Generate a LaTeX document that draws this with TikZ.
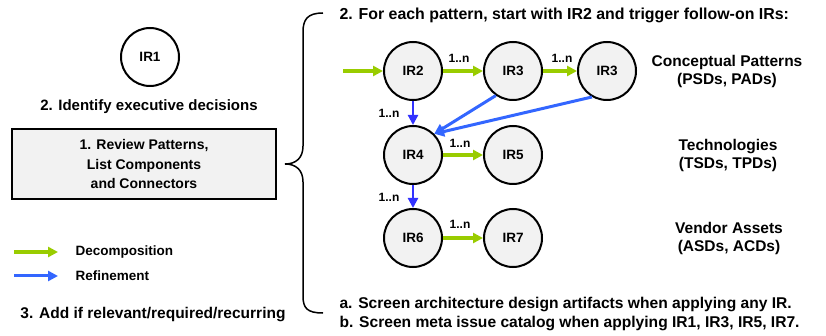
\documentclass[tikz,border=0pt]{standalone}
\usepackage{fontspec}
\setmainfont{Liberation Sans}
\usetikzlibrary{arrows.meta}
\definecolor{decomp}{HTML}{99CC00}
\definecolor{refine}{HTML}{3366FF}
\definecolor{refinedark}{HTML}{3333FF}
\definecolor{irfill}{HTML}{F2F2F2}
\tikzset{
  ir/.style={circle, draw, line width=2pt, fill=irfill, minimum size=58pt, inner sep=0pt,
    font=\bfseries\fontsize{13.5}{16}\selectfont},
  txt/.style={font=\bfseries\fontsize{15.5}{18}\selectfont, align=center},
  decarrow/.style={decomp, line width=3.2pt, -{Triangle[length=10pt,width=10pt]}},
  refarrow/.style={refine, line width=3pt, -{Triangle[length=10pt,width=10pt]}},
  mult/.style={font=\bfseries\fontsize{12}{14}\selectfont},
  legend/.style={font=\bfseries\fontsize{13.5}{15}\selectfont, anchor=west}
}
\begin{document}
\begin{tikzpicture}[x=1pt, y=-1pt]
  \useasboundingbox (0,0) rectangle (826,336);
  % left hand side
  \node[ir, fill=white] (ir1) at (150,57) {IR1};
  \node[txt, font=\bfseries\fontsize{15}{18}\selectfont] (exec) at (149,107) {2. Identify executive decisions};
  \node[txt, font=\bfseries\fontsize{14}{19.5}\selectfont, draw, line width=1.5pt, fill=irfill,
    minimum width=264pt, minimum height=70pt] (review) at (144,164)
    {1. Review Patterns,\\List Components\\and Connectors};
  \coordinate (lg1) at (14,252);
  \coordinate (lg1e) at (58,252);
  \coordinate (lg2) at (14,276);
  \coordinate (lg2e) at (58,276);
  \draw[decarrow] (lg1) -- (lg1e);
  \draw[refarrow] (lg2) -- (lg2e);
  \node[legend] (ldec) at (72,252) {Decomposition};
  \node[legend] (lref) at (72,276) {Refinement};
  \node[txt] (add) at (153,315) {3. Add if relevant/required/recurring};
  % brace
  \draw[line width=1.5pt] (323,13) .. controls (307,13) and (303,20) .. (303,32) -- (303,146)
    .. controls (303,158) and (296,164) .. (285,164)
    .. controls (296,164) and (303,170) .. (303,182) -- (303,296)
    .. controls (303,308) and (307,313) .. (323,313);
  \node[txt, font=\bfseries\fontsize{15.9}{18}\selectfont, anchor=west] (head) at (336,15)
    {2. For each pattern, start with IR2 and trigger follow-on IRs:};
  % pattern graph
  \node[ir] (ir2) at (413,71) {IR2};
  \node[ir] (ir3) at (513,71) {IR3};
  \node[ir] (ir3b) at (607,71) {IR3};
  \node[ir] (ir4) at (413,155) {IR4};
  \node[ir] (ir5) at (513,155) {IR5};
  \node[ir] (ir6) at (413,238) {IR6};
  \node[ir] (ir7) at (513,238) {IR7};
  \coordinate (start) at (343,71);
  \begin{scope}[decarrow]
    \draw (start) -- (ir2);
    \draw (ir2) -- (ir3);
    \draw (ir3) -- (ir3b);
    \draw (ir4) -- (ir5);
    \draw (ir6) -- (ir7);
  \end{scope}
  \begin{scope}[refarrow]
    \draw[refinedark, line width=2.2pt] (ir2) -- (ir4);
    \draw[refinedark, line width=2.2pt] (ir4) -- (ir6);
    \draw (ir3.235) -- (ir4.45);
    \draw (ir3b.240) -- (ir4.45);
  \end{scope}
  \node[mult] (m1) at (459,58) {1..n};
  \node[mult] (m2) at (562,58) {1..n};
  \node[mult] (m3) at (460,143) {1..n};
  \node[mult] (m4) at (460,224) {1..n};
  \node[mult] (m5) at (389,113) {1..n};
  \node[mult] (m6) at (389,197) {1..n};
  % layer labels
  \node[txt] (cp) at (727,71) {Conceptual Patterns\\(PSDs, PADs)};
  \node[txt] (tech) at (728,155) {Technologies\\(TSDs, TPDs)};
  \node[txt] (vend) at (729,238) {Vendor Assets\\(ASDs, ACDs)};
  \begin{scope}[every node/.style={txt, font=\bfseries\fontsize{15.6}{18}\selectfont, anchor=west}]
    \node (nota) at (336,305) {a. Screen architecture design artifacts when applying any IR.};
    \node (notb) at (336,323) {b. Screen meta issue catalog when applying IR1, IR3, IR5, IR7.};
  \end{scope}
\end{tikzpicture}
\end{document}
